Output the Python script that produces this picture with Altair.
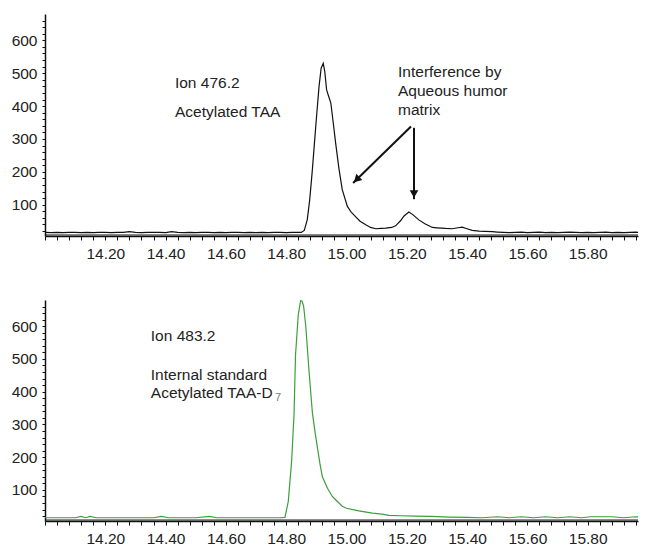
import altair as alt
import pandas as pd

# ---------------- data ----------------
# Top trace: Ion 476.2, acetylated TAA (retention time in minutes, counts)
top_t = [14.00, 14.02, 14.04, 14.06, 14.08, 14.10, 14.12, 14.14, 14.16, 14.18,
         14.20, 14.22, 14.24, 14.26, 14.28, 14.30, 14.32, 14.34, 14.36, 14.38,
         14.40, 14.42, 14.44, 14.46, 14.48, 14.50, 14.52, 14.54, 14.56, 14.58,
         14.60, 14.62, 14.64, 14.66, 14.68, 14.70, 14.72, 14.74, 14.76, 14.78,
         14.80, 14.82, 14.84, 14.85, 14.86, 14.87, 14.878, 14.886, 14.892, 14.90,
         14.909, 14.916, 14.923, 14.928, 14.934, 14.940, 14.948, 14.956, 14.964, 14.975,
         14.986, 15.003, 15.015, 15.030, 15.045, 15.064, 15.08, 15.097, 15.115, 15.130,
         15.15, 15.163, 15.18, 15.191, 15.207, 15.22, 15.24, 15.26, 15.285, 15.30,
         15.329, 15.35, 15.37, 15.384, 15.40, 15.417, 15.44, 15.46, 15.484, 15.50,
         15.52, 15.54, 15.56, 15.58, 15.60, 15.62, 15.64, 15.66, 15.68, 15.70,
         15.72, 15.74, 15.76, 15.78, 15.80, 15.82, 15.84, 15.86, 15.88, 15.90,
         15.92, 15.94, 15.96, 15.98, 16.00]
top_v = [16, 15, 16, 15, 16, 16, 15, 16, 15, 16,
         16, 15, 16, 16, 18, 16, 15, 16, 16, 16,
         15, 18, 16, 15, 16, 15, 16, 16, 15, 16,
         15, 16, 16, 15, 16, 15, 16, 15, 16, 16,
         15, 16, 16, 16, 22, 55, 115, 197, 267, 360,
         460, 515, 530, 505, 450, 432, 410, 350, 288, 210,
         146, 95, 78, 64, 50, 39, 31, 27, 28, 29,
         31, 36, 52, 66, 78, 70, 54, 42, 31, 30,
         28, 27, 30, 32, 27, 22, 20, 19, 18, 17,
         16, 15, 16, 17, 15, 16, 17, 15, 16, 15,
         16, 17, 16, 15, 16, 15, 16, 17, 15, 16,
         15, 16, 17, 15, 16]

# Bottom trace: Ion 483.2, internal standard acetylated TAA-D7
bot_t = [14.00, 14.02, 14.04, 14.06, 14.08, 14.10, 14.12, 14.135, 14.15, 14.17,
         14.20, 14.24, 14.28, 14.32, 14.36, 14.385, 14.41, 14.45, 14.50, 14.545,
         14.57, 14.62, 14.66, 14.70, 14.74, 14.78, 14.796, 14.807, 14.818, 14.826,
         14.831, 14.840, 14.848, 14.853, 14.858, 14.865, 14.876, 14.887, 14.896, 14.904,
         14.912, 14.920, 14.937, 14.953, 14.964, 14.986, 15.00, 15.041, 15.086, 15.118,
         15.141, 15.18, 15.229, 15.28, 15.34, 15.40, 15.45, 15.50, 15.54, 15.58,
         15.62, 15.66, 15.70, 15.74, 15.78, 15.81, 15.85, 15.88, 15.92, 15.96, 16.00]
bot_v = [15, 15, 15, 15, 15, 15, 19, 15, 19, 15,
         15, 15, 15, 15, 15, 19, 15, 15, 15, 19,
         15, 15, 15, 15, 15, 15, 16, 65, 187, 329,
         512, 634, 678, 676, 660, 600, 460, 335, 275, 227,
         180, 140, 105, 80, 70, 50, 44, 36, 29, 26,
         22, 21, 20, 19, 17, 16, 15, 18, 15, 18,
         15, 18, 15, 18, 15, 18, 18, 18, 15, 18, 15]

# Annotations
top_text_x = [14.431, 14.431, 15.171, 15.171, 15.171]
top_text_y = [470, 382, 503, 446, 388]
top_text_s = ["Ion 476.2", "Acetylated TAA", "Interference by", "Aqueous humor", "matrix"]

bot_text_x = [14.351, 14.351, 14.351]
bot_text_y = [570, 452, 397]
bot_text_s = ["Ion 483.2", "Internal standard", "Acetylated TAA-D"]
sub_x = [14.763]
sub_y = [380]
sub_s = ["7"]

arrow_x = [15.214, 15.224]
arrow_y = [338, 334]
arrow_x2 = [15.022, 15.224]
arrow_y2 = [166, 117]
head_x = [15.0335, 15.224]
head_y = [176.6, 132.6]
head_angle = [226, 180]

baseline_level = [8]

X_MIN, X_MAX = 14.0, 15.967
x_ticks = [round(14.0 + i * 0.04, 2) for i in range(51) if 14.0 + i * 0.04 <= X_MAX]
y_ticks = list(range(20, 661, 20))

# ---------------- chart ----------------
FONT = "Liberation Sans"
FS = 15.5
W = 593

xscale = alt.Scale(domain=[X_MIN, X_MAX], nice=False, zero=False)
yscale = alt.Scale(domain=[5, 680], nice=False, zero=False)

LABEL_EXPR_X = ("(round(datum.value*100) % 20 == 0 && datum.value > 14.1 && datum.value < 15.9)"
                " ? format(datum.value, '.2f') : ''")

xaxis = alt.Axis(values=x_ticks, tickCount=200, labelExpr=LABEL_EXPR_X, title=None,
                 grid=False, tickSize=4, labelPadding=6, labelOverlap=False,
                 labelFlush=False)

yaxis = alt.Axis(
    values=y_ticks, tickCount=200,
    labelExpr="(datum.value % 100 == 0) ? format(datum.value, 'd') : ''",
    title=None, grid=False, tickSize=3, labelPadding=5, labelOverlap=False,
)


def panel(t, v, color, tx, ty, ts, height, extra=None):
    df = pd.DataFrame({"t": t, "v": v})
    line = alt.Chart(df).mark_line(color=color, strokeWidth=1.2, clip=True).encode(
        x=alt.X("t:Q", scale=xscale, axis=xaxis),
        y=alt.Y("v:Q", scale=yscale, axis=yaxis),
    )
    base = alt.Chart(pd.DataFrame({"b": baseline_level})).mark_rule(
        color="#111", strokeWidth=1
    ).encode(y=alt.Y("b:Q", scale=yscale))
    txt = alt.Chart(pd.DataFrame({"x": tx, "y": ty, "s": ts})).mark_text(
        align="left", baseline="middle", font=FONT, fontSize=FS, color="#222"
    ).encode(x=alt.X("x:Q", scale=xscale), y=alt.Y("y:Q", scale=yscale), text="s:N")
    layers = [base, line, txt]
    if extra:
        layers += extra
    return alt.layer(*layers).properties(width=W, height=height)


arrows_df = pd.DataFrame({"x": arrow_x, "y": arrow_y, "x2": arrow_x2, "y2": arrow_y2})
arrows = alt.Chart(arrows_df).mark_rule(color="#111", strokeWidth=2).encode(
    x=alt.X("x:Q", scale=xscale), y=alt.Y("y:Q", scale=yscale), x2="x2:Q", y2="y2:Q"
)
heads = alt.Chart(pd.DataFrame({"x": head_x, "y": head_y, "a": head_angle})).mark_point(
    shape="triangle-up", filled=True, color="#111", size=75, opacity=1
).encode(
    x=alt.X("x:Q", scale=xscale), y=alt.Y("y:Q", scale=yscale),
    angle=alt.Angle("a:Q", scale=None),
)

subscript = alt.Chart(pd.DataFrame({"x": sub_x, "y": sub_y, "s": sub_s})).mark_text(
    align="left", baseline="middle", font=FONT, fontSize=11, color="#777"
).encode(x=alt.X("x:Q", scale=xscale), y=alt.Y("y:Q", scale=yscale), text="s:N")

top = panel(top_t, top_v, "#111111", top_text_x, top_text_y, top_text_s, 222,
            [arrows, heads])
bottom = panel(bot_t, bot_v, "#3c9e3c", bot_text_x, bot_text_y, bot_text_s, 221,
               [subscript])

chart = alt.vconcat(top, bottom, spacing=37).properties(
    padding={"left": 3, "top": 5, "right": 0, "bottom": 0}
).configure_view(stroke=None).configure_axis(
    domainColor="#111", domainWidth=1.5, tickColor="#111", tickWidth=1,
    labelFont=FONT, labelFontSize=FS, labelColor="#222",
)

chart.save("out.html", embed_options={"renderer": "svg", "actions": False})
